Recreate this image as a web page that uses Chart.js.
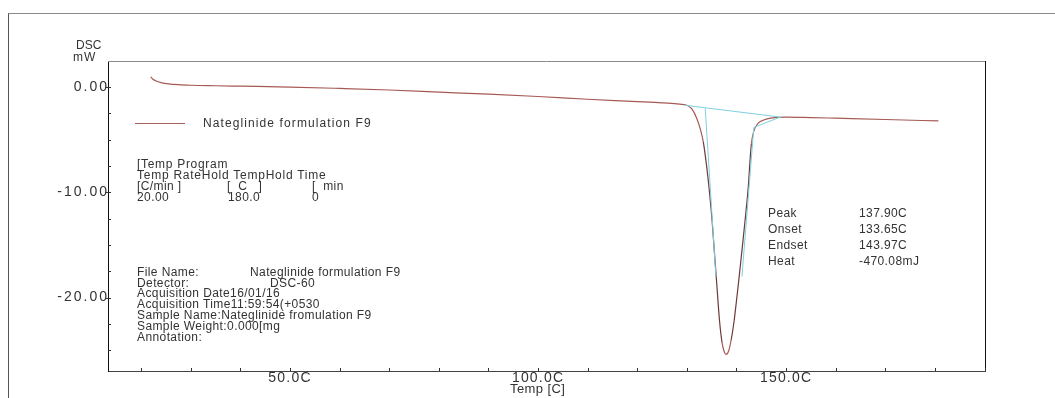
<!DOCTYPE html>
<html>
<head>
<meta charset="utf-8">
<script src="https://cdn.jsdelivr.net/npm/chart.js@4.4.1/dist/chart.umd.min.js"></script>
<style>
  html, body { margin: 0; padding: 0; background: #fff; overflow: hidden; }
  #wrap { position: relative; width: 1055px; height: 398px; }
  #c { position: absolute; left: 0; top: 0; }
  .frame { position: absolute; left: 8px; top: 13px; width: 1100px; height: 500px;
           border-top: 1px solid #8a8a8a; border-left: 1px solid #555; pointer-events: none; }
  .t { position: absolute; font-family: "Liberation Sans", Arial, sans-serif; font-size: 12px;
       color: #333; white-space: pre; line-height: 12px; letter-spacing: 0.4px; }
  .leg-line { position: absolute; left: 135px; top: 123px; width: 50px; height: 0;
              border-top: 1px solid #a8625d; }
</style>
</head>
<body>
<div id="wrap">
  <canvas id="c" width="1055" height="398"></canvas>
  <div class="frame"></div>
</div>
<script>
// ---- data ----
const temps = [21.9, 22.3, 23.0, 24.0, 25.5, 27.5, 30, 35, 40, 50, 60, 70, 80, 90, 100, 110, 120, 125, 128, 130,
  131.0, 132.0, 132.7, 133.3, 134.0, 134.6, 135.1, 135.6, 136.1, 136.6, 137.1, 137.5, 137.9, 138.4, 138.9, 139.5,
  140.0, 140.5, 141.2, 141.9, 142.4, 142.7, 143.0, 143.5, 144.3, 145.5, 148, 150, 155, 160, 170, 180.7];
const dsc = [0.93, 0.75, 0.55, 0.40, 0.28, 0.20, 0.15, 0.10, 0.06, -0.02, -0.15, -0.30, -0.50, -0.70, -0.92, -1.18, -1.40, -1.52, -1.62, -1.75,
  -2.1, -3.0, -4.0, -5.2, -7.6, -10.2, -12.8, -16.0, -19.2, -22.3, -24.3, -25.1, -25.4, -25.1, -24.1, -22.3,
  -20.3, -18.2, -15.1, -11.9, -9.4, -7.2, -5.4, -4.2, -3.5, -3.15, -2.9, -2.87, -2.92, -2.98, -3.10, -3.24];
// analysis construction lines (baseline + tangents)
const baseT = [129.6, 149.0];
const baseV = [-1.75, -2.88];
const onsetT = [133.7, 135.85];
const onsetV = [-2.05, -18.0];
const endT = [148.8, 143.5, 142.0, 141.1];
const endV = [-2.88, -3.85, -12.7, -18.0];
const xTicksLabeled = [50, 100, 150];
const yTicksLabeled = [0, -10, -20];
const seriesName = "Nateglinide formulation F9";

const pts = (xs, ys) => xs.map((x, i) => ({ x: x, y: ys[i] }));

// letter spacing for axis tick labels (reference text is widely tracked)
const spacing = { x: '1.2px', y: '2px' };
const labelSpacing = {
  id: 'labelSpacing',
  beforeDraw(chart) {
    Object.keys(spacing).forEach(id => {
      const s = chart.scales[id];
      if (!s || s._spacedWrap) return;
      const orig = s.drawLabels;
      s.drawLabels = function (area) {
        const ctx = this.ctx;
        ctx.save();
        try { ctx.letterSpacing = spacing[id]; } catch (e) {}
        orig.call(this, area);
        ctx.restore();
      };
      s._spacedWrap = true;
    });
  }
};

const frameAndTicks = {
  id: 'frameAndTicks',
  afterDraw(chart) {
    const { ctx, chartArea: a, scales: { x, y } } = chart;
    ctx.save();
    ctx.lineWidth = 1;
    ctx.strokeStyle = '#8a8a8a';
    ctx.beginPath(); ctx.moveTo(a.left, a.top + 0.5); ctx.lineTo(a.right, a.top + 0.5); ctx.stroke();
    ctx.strokeStyle = '#111';
    ctx.beginPath(); ctx.moveTo(a.right + 0.5, a.top); ctx.lineTo(a.right + 0.5, a.bottom); ctx.stroke();
    ctx.strokeStyle = '#333';
    x.ticks.forEach(t => {
      const px = Math.round(x.getPixelForValue(t.value)) + 0.5;
      ctx.beginPath(); ctx.moveTo(px, a.bottom); ctx.lineTo(px, a.bottom - 3); ctx.stroke();
    });
    y.ticks.forEach(t => {
      const py = Math.round(y.getPixelForValue(t.value)) + 0.5;
      const major = yTicksLabeled.includes(t.value);
      ctx.beginPath(); ctx.moveTo(a.left - (major ? 3 : 0), py); ctx.lineTo(a.left + 3, py); ctx.stroke();
    });
    ctx.restore();
  }
};

const fam = '"Liberation Sans", Arial, sans-serif';
// steep parts of the trace render darker in the reference
const steepColor = ctx => Math.abs(ctx.p1.parsed.y - ctx.p0.parsed.y) > 1.5 ? '#6e3a38' : undefined;

new Chart(document.getElementById('c'), {
  type: 'line',
  data: {
    datasets: [
      { label: 'base', data: pts(baseT, baseV), borderColor: '#7fd0de', borderWidth: 1, pointRadius: 0, tension: 0 },
      { label: 'onset', data: pts(onsetT, onsetV), borderColor: '#7fd0de', borderWidth: 1, pointRadius: 0, tension: 0 },
      { label: 'endset', data: pts(endT, endV), borderColor: '#7fd0de', borderWidth: 1, pointRadius: 0, tension: 0 },
      { label: seriesName, data: pts(temps, dsc), borderColor: '#a65a55', borderWidth: 1.2, pointRadius: 0,
        cubicInterpolationMode: 'monotone', segment: { borderColor: steepColor } }
    ]
  },
  options: {
    responsive: false,
    animation: false,
    layout: { padding: { left: 0, top: 61, right: 70, bottom: 0 } },
    plugins: { legend: { display: false }, tooltip: { enabled: false } },
    scales: {
      x: {
        type: 'linear', min: 13.3, max: 190.1,
        afterFit: s => { s.height = 27; },
        border: { display: true, color: '#444', width: 1 },
        grid: { display: false, drawTicks: false },
        ticks: { stepSize: 10, includeBounds: false, autoSkip: false, maxRotation: 0, padding: 0,
                 color: '#333', font: { family: fam, size: 14, lineHeight: 1 },
                 callback: v => xTicksLabeled.includes(v) ? v.toFixed(1) + 'C' : '' },
        title: { display: false, text: 'Temp [C]' }
      },
      y: {
        type: 'linear', min: -26.97, max: 2.45,
        afterFit: s => { s.width = 108; },
        border: { display: true, color: '#111', width: 1 },
        grid: { display: false, drawTicks: false },
        ticks: { stepSize: 2.5, includeBounds: false, autoSkip: false, padding: -1,
                 color: '#333', font: { family: fam, size: 14 },
                 callback: v => yTicksLabeled.includes(v) ? v.toFixed(2) : '' }
      }
    }
  },
  plugins: [labelSpacing, frameAndTicks]
});
</script>
<!-- text overlays -->
<div class="t" style="left:76px; top:39px; letter-spacing:0;">DSC</div>
<div class="t" style="left:73px; top:51px; letter-spacing:1px;">mW</div>

<div class="t" style="left:510px; top:382px; font-size:13px; line-height:13px; letter-spacing:0.4px;">Temp [C]</div>

<div class="leg-line"></div>
<div class="t" style="left:203px; top:117px; letter-spacing:1.1px;">Nateglinide formulation F9</div>

<div class="t" style="left:137px; top:158px; letter-spacing:0.7px;">[Temp Program</div>
<div class="t" style="left:137px; top:169px; letter-spacing:0.75px;">Temp RateHold TempHold Time</div>
<div class="t" style="left:137px; top:180px;">[C/min ]</div>
<div class="t" style="left:227px; top:180px;">[  C   ]</div>
<div class="t" style="left:312px; top:180px;">[  min</div>
<div class="t" style="left:137px; top:191px;">20.00</div>
<div class="t" style="left:228px; top:191px;">180.0</div>
<div class="t" style="left:312px; top:191px;">0</div>

<div class="t" style="left:137px; top:266px;">File Name:</div>
<div class="t" style="left:250px; top:266px;">Nateglinide formulation F9</div>
<div class="t" style="left:137px; top:277px;">Detector:</div>
<div class="t" style="left:270px; top:277px;">DSC-60</div>
<div class="t" style="left:137px; top:287px;">Acquisition Date16/01/16</div>
<div class="t" style="left:137px; top:298px;">Acquisition Time11:59:54(+0530</div>
<div class="t" style="left:137px; top:309px;">Sample Name:Nateglinide fromulation F9</div>
<div class="t" style="left:137px; top:320px;">Sample Weight:0.000[mg</div>
<div class="t" style="left:137px; top:331px;">Annotation:</div>

<div class="t" style="left:768px; top:207px;">Peak</div>
<div class="t" style="left:768px; top:223px;">Onset</div>
<div class="t" style="left:768px; top:239px;">Endset</div>
<div class="t" style="left:768px; top:255px;">Heat</div>
<div class="t" style="left:859px; top:207px;">137.90C</div>
<div class="t" style="left:859px; top:223px;">133.65C</div>
<div class="t" style="left:859px; top:239px;">143.97C</div>
<div class="t" style="left:859px; top:255px;">-470.08mJ</div>
</body>
</html>
